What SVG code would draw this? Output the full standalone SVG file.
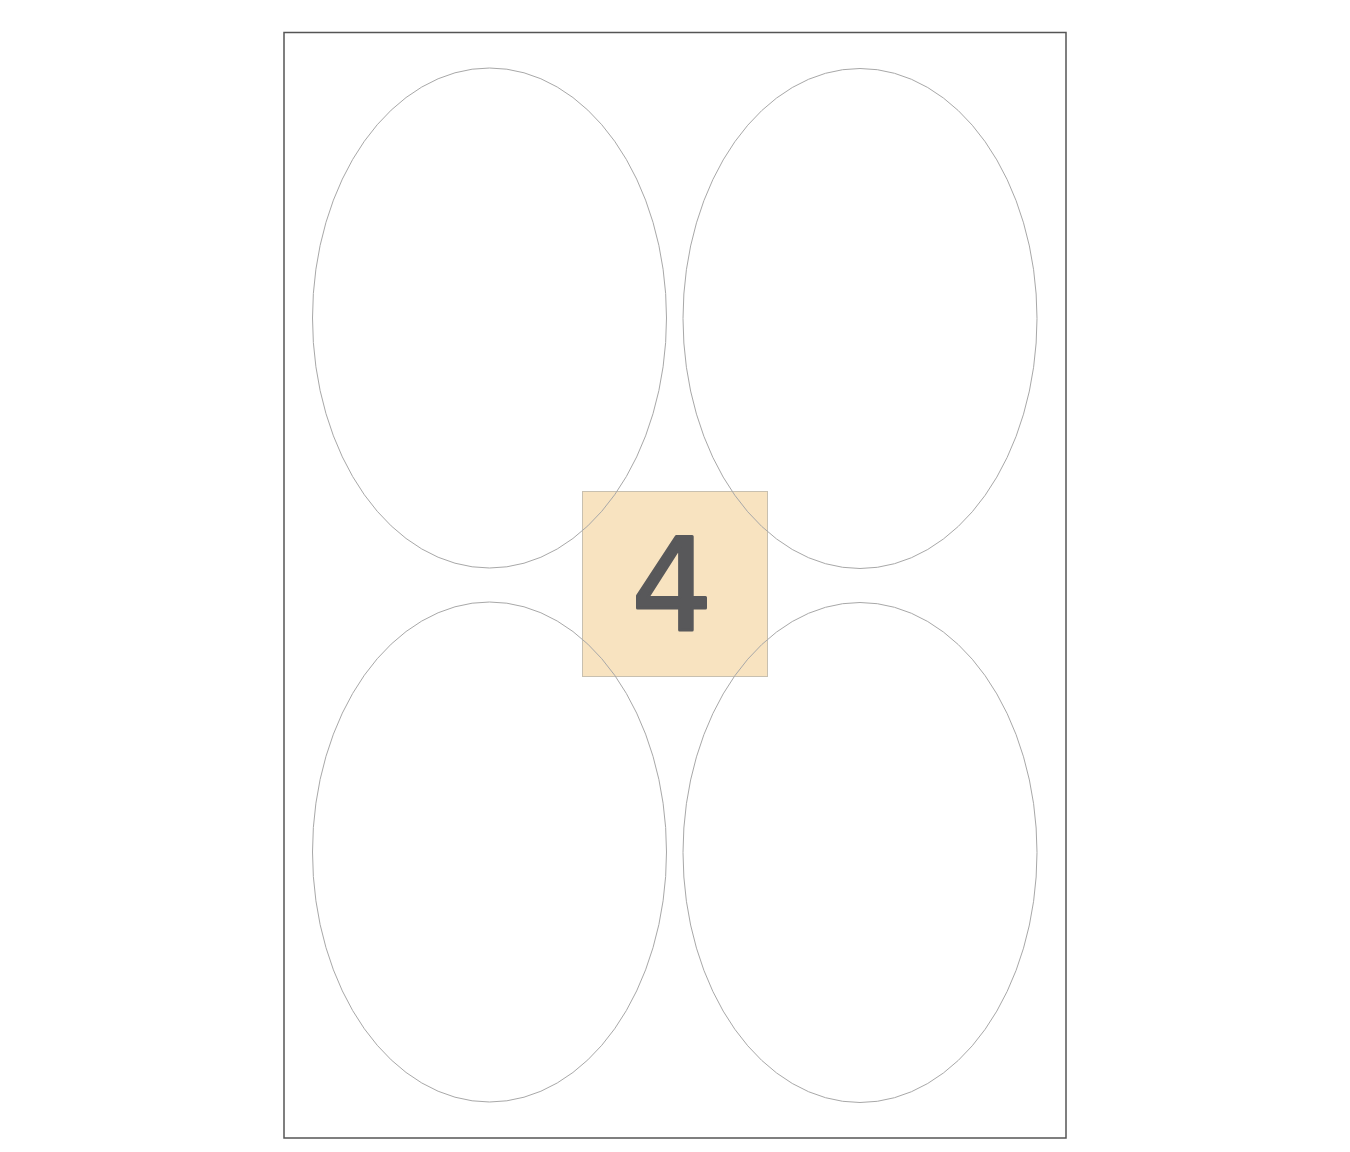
<svg xmlns="http://www.w3.org/2000/svg" width="1350" height="1152" viewBox="0 0 1350 1152">
<style>
.lbl{fill:none;stroke:#a8a8a8;stroke-width:1}
.num{font-family:"DejaVu Sans",sans-serif;font-size:128px;font-weight:normal;fill:#58585a;stroke:#58585a;stroke-width:3;stroke-linejoin:round;text-anchor:middle}
</style>
<rect width="1350" height="1152" fill="#ffffff"/>
<g id="page"><rect x="284" y="32.5" width="782" height="1105.5" fill="#ffffff" stroke="#555555" stroke-width="1.5"/></g>
<g id="badge">
<rect x="582.5" y="491.5" width="185" height="185" fill="#f8e3c0" stroke="#c8c0b0" stroke-width="1"/>
<text class="num" x="672" y="630">4</text>
</g>
<g id="label-1"><ellipse class="lbl" cx="489.5" cy="318" rx="177" ry="250"/></g>
<g id="label-2"><ellipse class="lbl" cx="860" cy="318.5" rx="177" ry="250"/></g>
<g id="label-3"><ellipse class="lbl" cx="489.5" cy="852" rx="177" ry="250"/></g>
<g id="label-4"><ellipse class="lbl" cx="860" cy="852.5" rx="177" ry="250"/></g>
<g id="connectors"/>
</svg>
